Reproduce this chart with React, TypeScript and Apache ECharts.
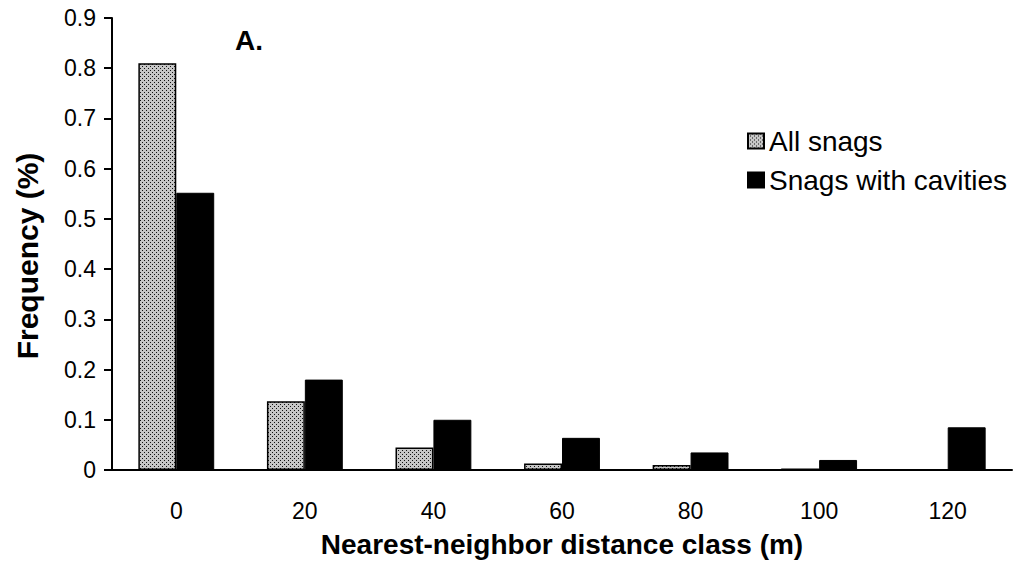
import React, { useEffect, useRef } from "react";
import * as echarts from "echarts";

const categories = ["0", "20", "40", "60", "80", "100", "120"];
const allSnags = [0.81, 0.137, 0.045, 0.013, 0.01, 0.003, 0];
const snagsWithCavities = [0.552, 0.18, 0.1, 0.064, 0.035, 0.02, 0.085];
const yTicks = { min: 0, max: 0.9, interval: 0.1 };

const FONT = "'Liberation Sans', Arial, sans-serif";

function makePattern(): HTMLCanvasElement {
  const c = document.createElement("canvas");
  c.width = 4;
  c.height = 4;
  const ctx = c.getContext("2d");
  if (ctx) {
    ctx.fillStyle = "#c6c6c6";
    ctx.fillRect(0, 0, 4, 4);
    ctx.fillStyle = "#111111";
    ctx.fillRect(0, 0, 1, 1);
    ctx.fillRect(2, 2, 1, 1);
  }
  return c;
}

export default function App() {
  const ref = useRef<HTMLDivElement>(null);
  useEffect(() => {
    document.body.style.margin = "0";
    if (!ref.current) return;
    const chart = echarts.init(ref.current, undefined, { renderer: "svg" });
    const pattern = { image: makePattern(), repeat: "repeat" } as any;
    chart.setOption({
      animation: false,
      backgroundColor: "#ffffff",
      textStyle: { fontFamily: FONT, color: "#000" },
      grid: { left: 112, right: 18, top: 18, bottom: 111, containLabel: false },
      legend: {
        orient: "vertical",
        left: 742,
        top: 122,
        itemWidth: 16,
        itemHeight: 15,
        itemGap: 11,
        icon: "rect",
        textStyle: { fontSize: 28, color: "#000", fontFamily: FONT },
        data: ["All snags", "Snags with cavities"],
      },
      graphic: [
        {
          type: "text",
          left: 235,
          top: 26,
          style: { text: "A.", font: `bold 28px ${FONT}`, fill: "#000" },
        },
      ],
      xAxis: {
        type: "category",
        data: categories,
        boundaryGap: true,
        name: "Nearest-neighbor distance class (m)",
        nameLocation: "middle",
        nameGap: 60,
        nameTextStyle: { fontSize: 28, fontWeight: "bold", color: "#000", fontFamily: FONT },
        axisLine: { lineStyle: { color: "#000", width: 2 } },
        axisTick: { length: 8, lineStyle: { color: "#000", width: 2 } },
        axisLabel: { fontSize: 23, color: "#000", margin: 29, fontFamily: FONT },
      },
      yAxis: {
        type: "value",
        min: yTicks.min,
        max: yTicks.max,
        interval: yTicks.interval,
        name: "Frequency (%)",
        nameLocation: "middle",
        nameGap: 70,
        nameTextStyle: {
          fontSize: 30,
          fontWeight: "bold",
          color: "#000",
          fontFamily: FONT,
          padding: [0, 24, 0, 0],
        },
        splitLine: { show: false },
        axisLine: { show: true, lineStyle: { color: "#000", width: 2 } },
        axisTick: { show: true, length: 8, lineStyle: { color: "#000", width: 2 } },
        axisLabel: {
          fontSize: 23,
          color: "#000",
          margin: 16,
          fontFamily: FONT,
          formatter: (v: number) => (v === 0 ? "0" : v.toFixed(1)),
        },
      },
      series: [
        {
          name: "All snags",
          type: "bar",
          data: allSnags,
          barWidth: "29.5%",
          barGap: "0%",
          itemStyle: { color: pattern, borderColor: "#000", borderWidth: 1.5 },
        },
        {
          name: "Snags with cavities",
          type: "bar",
          data: snagsWithCavities,
          barWidth: "29.5%",
          barGap: "0%",
          itemStyle: { color: "#000", borderColor: "#000", borderWidth: 1 },
        },
      ],
    });
    return () => chart.dispose();
  }, []);
  return <div ref={ref} style={{ width: 1030, height: 581 }} />;
}
